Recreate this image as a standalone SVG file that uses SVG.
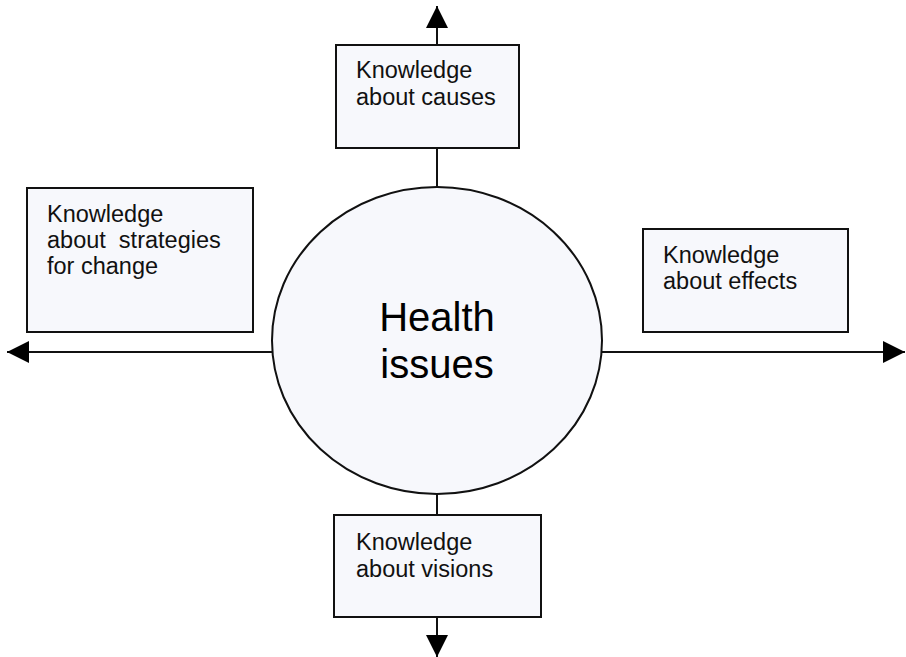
<svg xmlns="http://www.w3.org/2000/svg" width="906" height="657" viewBox="0 0 906 657">
<defs>
<marker id="arrow" markerUnits="userSpaceOnUse" markerWidth="22" markerHeight="22" viewBox="0 0 20 20" refX="20" refY="10" orient="auto">
<path d="M0,0 L20,10 L0,20 Z" fill="#000"/>
</marker>
<style>
.box{fill:#f7f8fc;stroke:#111;stroke-width:2}
.conn{stroke:#111;stroke-width:2;fill:none}
.lbl{font-family:"Liberation Sans",Arial,sans-serif;font-size:23.5px;fill:#111}
.big{font-family:"Liberation Sans",Arial,sans-serif;font-size:40px;fill:#000;text-anchor:middle}
</style>
</defs>
<rect width="906" height="657" fill="#fff"/>
<g id="connectors">
<line class="conn" x1="437" y1="187" x2="437" y2="6" marker-end="url(#arrow)"/>
<line class="conn" x1="437" y1="494" x2="437" y2="657" marker-end="url(#arrow)"/>
<line class="conn" x1="272" y1="352" x2="7" y2="352" marker-end="url(#arrow)"/>
<line class="conn" x1="602" y1="352" x2="905" y2="352" marker-end="url(#arrow)"/>
</g>
<g id="health">
<ellipse cx="437" cy="340.5" rx="165" ry="153.5" class="box"/>
<text class="big" x="437" y="331">Health</text>
<text class="big" x="437" y="378">issues</text>
</g>
<g id="causes">
<rect x="336" y="45" width="183" height="103" class="box"/>
<text class="lbl" x="356" y="78">Knowledge</text>
<text class="lbl" x="356" y="105">about causes</text>
</g>
<g id="strategies">
<rect x="27" y="188" width="226" height="144" class="box"/>
<text class="lbl" x="47" y="222">Knowledge</text>
<text class="lbl" x="47" y="248" xml:space="preserve">about  strategies</text>
<text class="lbl" x="47" y="274">for change</text>
</g>
<g id="effects">
<rect x="643" y="229" width="205" height="103" class="box"/>
<text class="lbl" x="663" y="263">Knowledge</text>
<text class="lbl" x="663" y="289">about effects</text>
</g>
<g id="visions">
<rect x="334" y="515" width="207" height="102" class="box"/>
<text class="lbl" x="356" y="550">Knowledge</text>
<text class="lbl" x="356" y="577">about visions</text>
</g>
</svg>
